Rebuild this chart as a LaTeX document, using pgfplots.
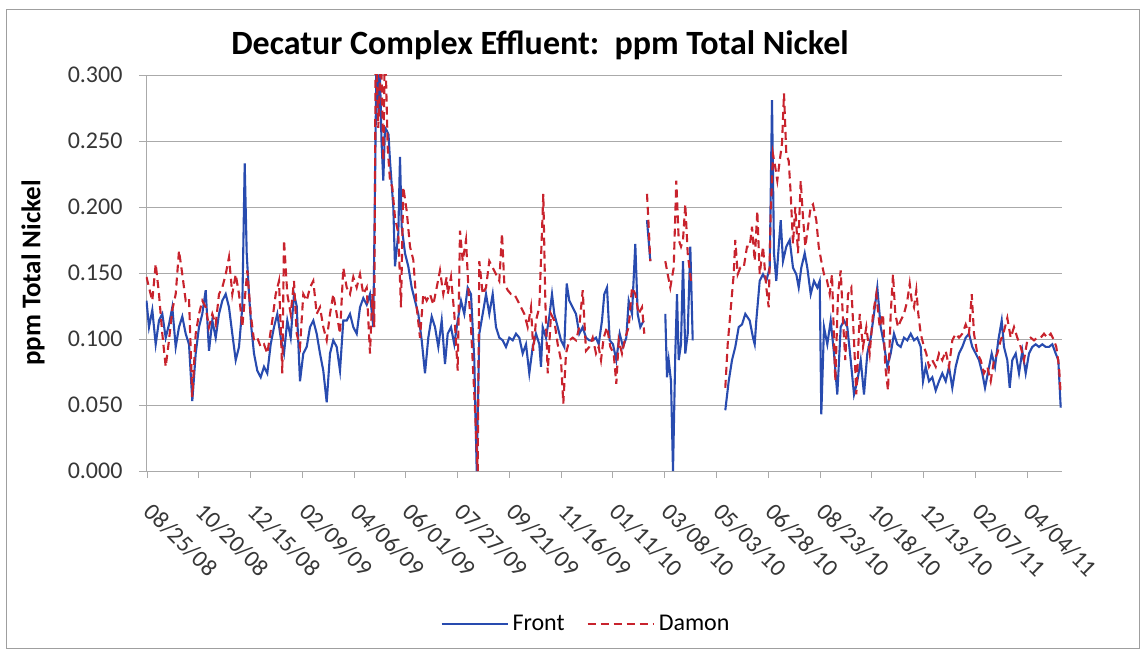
\documentclass[border=0pt]{standalone}
\usepackage{pgfplots}
\pgfplotsset{compat=1.18}
\usepackage{fontspec}
\setmainfont{Carlito}
\definecolor{frontblue}{RGB}{40,75,175}
\definecolor{damonred}{RGB}{200,35,45}
\definecolor{gridgray}{RGB}{170,170,170}
\definecolor{ticktext}{RGB}{55,55,55}
\begin{document}
\begin{tikzpicture}[x=1pt,y=1pt]
\useasboundingbox (-146,-182) rectangle (997,471);
\draw[gray!75, line width=1pt] (-139,-177) rectangle (993,461);
\begin{axis}[
  scale only axis, width=916pt, height=396pt,
  at={(0,0)}, anchor=south west,
  xmin=146, xmax=1062, ymin=0, ymax=0.3,
  axis lines=left, axis line style={-, draw=gridgray, line width=0.8pt},
  ymajorgrids, grid style={draw=gridgray, line width=0.8pt},
  tick align=outside, major tick length=7pt,
  tick style={draw=gridgray, line width=0.8pt},
  ytick={0,0.05,0.1,0.15,0.2,0.25,0.3},
  yticklabel style={xshift=-13pt, /pgf/number format/fixed, /pgf/number format/fixed zerofill, /pgf/number format/precision=3, /pgf/number format/assume math mode=true, font=\fontsize{24}{28}\selectfont, text=ticktext},
  xtick={147,198.8,250.5,302.3,354.0,405.8,457.6,509.3,561.1,612.8,664.6,716.4,768.1,819.9,871.6,923.4,975.2,1026.9},
  xticklabels={08/25/08,10/20/08,12/15/08,02/09/09,04/06/09,06/01/09,07/27/09,09/21/09,11/16/09,01/11/10,03/08/10,05/03/10,06/28/10,08/23/10,10/18/10,12/13/10,02/07/11,04/04/11},
  xticklabel style={yshift=-27pt, xshift=-1pt, rotate=-45, anchor=west, font=\fontsize{24}{28}\selectfont, text=ticktext},
  unbounded coords=jump,
  legend style={at={(0.4803,-0.386)}, anchor=center, draw=none, fill=none, font=\fontsize{24}{27}\selectfont, legend columns=2, /tikz/every even column/.append style={column sep=20pt}, /tikz/every odd column/.append style={column sep=2pt}},
  legend image code/.code={\draw[#1] (0pt,0pt) -- (66pt,0pt);},
]
\addplot[frontblue, line width=2.1pt] coordinates {
(146.5,0.129) (149,0.109) (152.3,0.122) (155.7,0.096) (159,0.114) (162.3,0.119) (165.7,0.101) (169,0.111) (172.3,0.124) (175.7,0.094) (179,0.109) (182.3,0.117) (185.7,0.104) (189,0.096) (192.3,0.053) (195.7,0.089) (199,0.109) (202.3,0.119) (205.7,0.137) (209,0.091) (212.3,0.114) (215.7,0.101) (219,0.119) (222.3,0.129) (225.7,0.134) (229,0.124) (232.3,0.104) (235.7,0.084) (239,0.094) (242.3,0.124) (244.7,0.233) (246.7,0.165) (249,0.134) (251.3,0.109) (254,0.089) (257.3,0.076) (260.7,0.071) (264,0.079) (267.3,0.074) (270.7,0.096) (274,0.109) (277.3,0.119) (280.7,0.101) (284,0.089) (287.3,0.114) (290.7,0.101) (294,0.134)
(296.7,0.125) (300,0.068) (303.3,0.089) (306.7,0.094) (310,0.109) (313.3,0.114) (316.7,0.104) (320,0.089) (323.3,0.076) (326.7,0.052) (330,0.089) (333.3,0.099) (336.7,0.094) (340,0.076) (343.3,0.114) (346.7,0.114) (350,0.119) (353.3,0.109) (356.7,0.104) (360,0.124) (363.3,0.131) (366.7,0.126) (370,0.134) (373.3,0.109) (375,0.215) (376.7,0.33) (378.5,0.27) (380,0.30) (381.5,0.25) (383.3,0.22) (385,0.26) (386.7,0.258) (388.5,0.255) (390,0.235) (393.3,0.2) (395,0.155) (398.3,0.18) (400,0.238) (401.7,0.185) (405,0.165) (408.3,0.155) (411.7,0.139) (415,0.129) (418.3,0.119) (421.7,0.099) (425,0.074) (428.3,0.101) (431.7,0.117) (435,0.109) (438.3,0.094) (441.7,0.114) (445,0.081)
(447.7,0.104) (451,0.109) (454.3,0.096) (457.7,0.114) (461,0.129) (464.3,0.119) (467.7,0.139) (471,0.134) (474.3,0.084) (476.7,0.0) (479.3,0.104) (482.7,0.119) (486,0.134) (489.3,0.119) (492.7,0.134) (496,0.109) (499.3,0.101) (502.7,0.099) (506,0.094) (509.3,0.101) (512.7,0.099) (516,0.104) (519.3,0.101) (522.7,0.089) (526,0.096) (529.3,0.074) (532.7,0.094) (536,0.104) (539.3,0.096) (541,0.079) (542.7,0.109) (546,0.101) (549.3,0.117) (552,0.134) (554.3,0.119) (557.7,0.109) (561,0.099) (564.3,0.094) (566.7,0.142) (569.3,0.129) (572.7,0.124) (576,0.119) (579.3,0.104) (582.7,0.109) (586,0.101) (589.3,0.099) (592.7,0.099) (596,0.101)
(598.7,0.096) (602,0.114) (604.3,0.134) (607,0.139) (609.7,0.099) (613,0.096) (616.3,0.084) (619.7,0.104) (623,0.094) (626.3,0.101) (628.7,0.129) (632,0.119) (635.3,0.172) (637.7,0.119) (640.3,0.109) (643.7,0.114) (645,nan) (647,0.19) (650.3,0.159) (652,nan) (665.3,0.119) (667,0.071) (668.7,0.084) (671,0.068) (673,0.0) (675.3,0.089) (677,0.134) (678.7,0.084) (681,0.096) (683,0.159) (685.3,0.089) (687.7,0.104) (690.3,0.17) (692.7,0.099) (700,nan) (725.3,0.046) (728.7,0.068) (732,0.084) (735.3,0.094) (738.7,0.109) (742,0.111) (745.3,0.119)
(749.7,0.114) (753,0.101) (754.7,0.096) (756.3,0.114) (759.7,0.144) (763,0.149) (766.3,0.144) (769.7,0.154) (772,0.281) (774,0.165) (776.3,0.144) (778.7,0.17) (780.7,0.19) (783,0.159) (786.3,0.17) (789.7,0.175) (793,0.154) (796.3,0.149) (798.7,0.139) (801.3,0.154) (804.7,0.165) (807.3,0.154) (810.7,0.134) (814,0.144) (817.3,0.139) (819.7,0.144) (821.3,0.043) (824,0.109) (827.3,0.096) (830.7,0.114) (834,0.089) (837.3,0.058) (840.7,0.109) (844,0.114) (847.3,0.109) (850.7,0.084) (854,0.058) (857.3,0.068) (860.7,0.084) (864,0.058) (867.3,0.089) (870.7,0.101) (874,0.119) (877.3,0.139) (880.7,0.109) (884,0.096) (887.3,0.079) (890.7,0.089) (894,0.104) (897.3,0.096)
(900.7,0.094) (904,0.101) (907.3,0.099) (910.7,0.104) (914,0.099) (917.3,0.101) (920.7,0.094) (923,0.068) (925.7,0.079) (929,0.068) (932.3,0.071) (935.7,0.061) (939,0.068) (942.3,0.074) (945.7,0.068) (949,0.079) (952.3,0.063) (955.7,0.079) (959,0.089) (962.3,0.094) (965.7,0.101) (969,0.104) (972.3,0.094) (975.7,0.089) (979,0.084) (982.3,0.074) (985,0.063) (988.3,0.076) (991.7,0.089) (995,0.079) (998.3,0.099) (1001.7,0.114) (1004,0.094) (1007.3,0.084) (1009.7,0.063) (1012.3,0.084) (1015.7,0.089) (1019,0.074) (1022.3,0.091) (1025.7,0.074) (1029,0.089) (1032.3,0.094) (1035.7,0.096) (1039,0.094) (1042.3,0.096) (1045.7,0.094) (1049,0.094) (1052.3,0.096) (1055.7,0.089) (1058.3,0.084) (1060.7,0.048)
};
\addlegendentry{Front}
\addplot[damonred, line width=2.1pt, dash pattern=on 8pt off 5pt] coordinates {
(146.5,0.147) (149,0.139) (152.3,0.129) (155.7,0.157) (159,0.134) (162.3,0.104) (165.7,0.079) (169,0.099) (172.3,0.122) (175.7,0.134) (179,0.167) (182.3,0.149) (185.7,0.129) (189,0.131) (192.3,0.056) (195.7,0.104) (199,0.119) (202.3,0.129) (205.7,0.124) (209,0.109) (212.3,0.119) (215.7,0.111) (219,0.134) (222.3,0.139) (225.7,0.149) (229,0.162) (232.3,0.134) (235.7,0.149) (239,0.134) (242.3,0.109) (247.3,0.152) (250.7,0.119) (254,0.099) (257.3,0.101) (260.7,0.094) (264,0.096) (267.3,0.089) (272.3,0.114) (275.7,0.134) (279,0.144) (282.3,0.074) (284,0.175) (287.3,0.134) (290.7,0.119) (294,0.144)
(296.7,0.104) (300,0.094) (303.3,0.134) (306.7,0.129) (310,0.139) (313.3,0.144) (316.7,0.119) (320,0.124) (323.3,0.109) (326.7,0.099) (330,0.119) (333.3,0.134) (336.7,0.119) (340,0.104) (343.3,0.154) (346.7,0.139) (350,0.134) (353.3,0.147) (356.7,0.139) (360,0.149) (363.3,0.134) (366.7,0.139) (370,0.089) (372.3,0.134) (374.3,0.109) (375.7,0.33) (378.3,0.26) (381,0.32) (383.3,0.235) (385,0.33) (387.7,0.245) (390,0.22) (392.3,0.215) (395,0.192) (398.3,0.18) (401,0.124) (403.3,0.215) (406.7,0.197) (410,0.17) (413.3,0.16) (416.7,0.124) (420,0.101) (423.3,0.134) (426.7,0.129) (430,0.134) (433.3,0.126) (436.7,0.139) (440,0.152) (443.3,0.134) (446.7,0.147)
(447.7,0.134) (451,0.147) (454.3,0.119) (457.7,0.076) (460,0.182) (462.7,0.159) (466,0.175) (468.7,0.134) (471,0.109) (474.3,0.058) (477.7,0.0) (479.3,0.159) (482.7,0.134) (486,0.139) (489.3,0.159) (492.7,0.154) (496,0.149) (499.3,0.144) (502,0.18) (504.3,0.142) (507.7,0.137) (511,0.134) (514.3,0.134) (517.7,0.129) (521,0.124) (524.3,0.119) (527.7,0.109) (531,0.124) (533.3,0.091) (536,0.114) (539.3,0.124) (543.3,0.21) (545.3,0.129) (547.7,0.074) (551,0.119) (554.3,0.114) (557.7,0.096) (561,0.084) (563.3,0.051) (566,0.089) (569.3,0.099) (572.7,0.101) (576,0.099) (579.3,0.109) (582.7,0.137) (586,0.091) (589.3,0.094) (592.7,0.101) (596,0.089)
(598.7,0.094) (601,0.084) (603.7,0.101) (607,0.109) (610.3,0.094) (613.7,0.089) (616.3,0.066) (618.7,0.099) (622,0.089) (625.3,0.101) (628.7,0.109) (632,0.139) (635.3,0.134) (638.7,0.119) (642,0.124) (644.3,0.104) (645.5,nan) (647,0.21) (648.7,0.185) (650.3,0.159) (652,nan) (665.3,0.159) (667.7,0.149) (670.3,0.139) (673.7,0.154) (676.3,0.22) (678.7,0.175) (681,0.17) (683,0.175) (685.3,0.202) (687.7,0.165) (691,0.144) (700,nan) (725.3,0.063) (727.7,0.096) (730.3,0.119) (733.7,0.149) (735.3,0.175) (737.7,0.149) (740.3,0.154) (743.7,0.154) (747,0.17)
(749.7,0.17) (752,0.185) (754.7,0.159) (757.3,0.197) (759.7,0.149) (763,0.17) (766.3,0.139) (768.7,0.124) (770.7,0.195) (773,0.24) (775.3,0.23) (777.3,0.22) (779.7,0.235) (782,0.248) (784,0.286) (786.3,0.24) (788.7,0.235) (790.7,0.21) (793,0.172) (795.3,0.2) (798,0.165) (800.7,0.22) (803,0.192) (805.3,0.17) (808,0.185) (810.7,0.2) (813,0.202) (816.3,0.19) (818.7,0.17) (821.3,0.159) (824,0.149) (826.3,0.147) (829.7,0.134) (832,0.149) (835.3,0.068) (838,0.134) (840.7,0.152) (843,0.114) (845.3,0.084) (848,0.134) (851.3,0.139) (854,0.099) (856.3,0.058) (859.7,0.119) (863,0.094) (866.3,0.109) (869.7,0.089) (873,0.119) (876.3,0.134) (879.7,0.109) (883,0.119) (885.3,0.079) (888,0.061) (890.7,0.119) (893,0.149) (895.3,0.119) (898,0.109)
(900.7,0.114) (904,0.119) (907.3,0.129) (909.7,0.142) (911.7,0.129) (914,0.124) (916.3,0.137) (918.3,0.119) (920.7,0.104) (924,0.094) (926.3,0.089) (929,0.079) (932.3,0.084) (935.7,0.079) (939,0.089) (942.3,0.084) (945.7,0.091) (949,0.079) (952.3,0.099) (955.7,0.104) (959,0.101) (962.3,0.104) (965.7,0.111) (969,0.104) (971.7,0.134) (974,0.104) (977.3,0.089) (980.7,0.084) (984,0.074) (987.3,0.079) (990.7,0.068) (994,0.084) (997.3,0.089) (1000.7,0.099) (1004,0.106) (1007.3,0.116) (1010.7,0.101) (1014,0.109) (1017.3,0.101) (1020.7,0.094) (1024,0.084) (1027.3,0.099) (1030.7,0.101) (1034,0.099) (1037.3,0.101) (1040.7,0.101) (1044,0.104) (1047.3,0.101) (1050.7,0.104) (1054,0.099) (1056.3,0.094) (1059,0.079) (1060.7,0.058)
};
\addlegendentry{Damon}
\end{axis}
\node[font=\fontsize{34}{38}\selectfont\bfseries, anchor=center] at (394,426) {Decatur Complex Effluent:\ \ ppm Total Nickel};
\node[font=\fontsize{27}{31}\selectfont\bfseries, rotate=90, anchor=center] at (-113,198) {ppm Total Nickel};
\end{tikzpicture}
\end{document}
